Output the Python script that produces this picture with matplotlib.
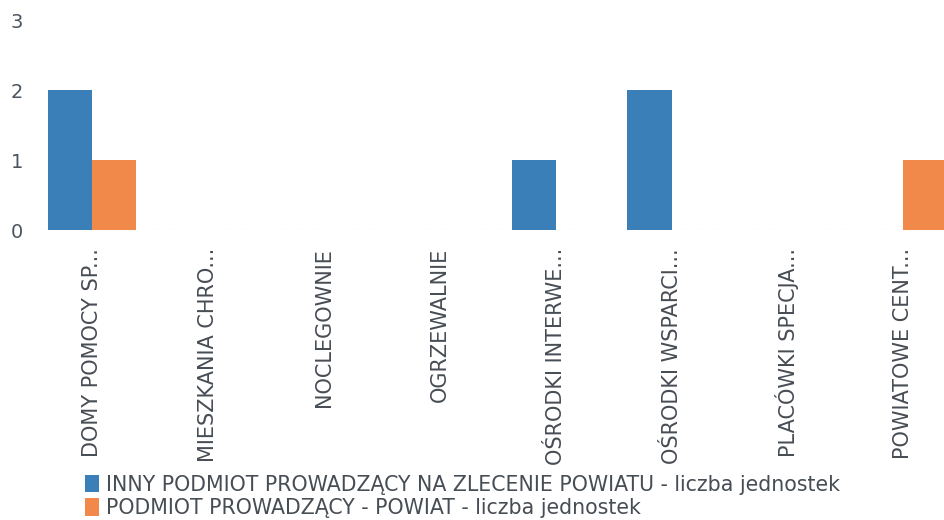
import numpy as np
import matplotlib.pyplot as plt

# Data
categories = ["DOMY POMOCY SP...", "MIESZKANIA CHRO...", "NOCLEGOWNIE", "OGRZEWALNIE",
              "OŚRODKI INTERWE...", "OŚRODKI WSPARCI...", "PLACÓWKI SPECJA...", "POWIATOWE CENT..."]
inny = [2, 0, 0, 0, 1, 2, 0, 0]
powiat = [1, 0, 0, 0, 0, 0, 0, 1]
series_names = ["INNY PODMIOT PROWADZĄCY NA ZLECENIE POWIATU - liczba jednostek",
                "PODMIOT PROWADZĄCY - POWIAT - liczba jednostek"]
colors = ["#3b7fb9", "#f1894b"]

plt.rcParams['font.family'] = ['DejaVu Sans']

fig = plt.figure(figsize=(9.45, 5.2), dpi=100)
ax = fig.add_axes([40 / 945, 290 / 520, 905 / 945, 210 / 520])

x = np.arange(len(categories))
w = 0.38
b1 = ax.bar(x - w / 2, inny, width=w, color=colors[0], label=series_names[0])
b2 = ax.bar(x + w / 2, powiat, width=w, color=colors[1], label=series_names[1])

ax.set_xlim(-0.45, 7.36)
ax.set_ylim(0, 3)
ax.set_yticks([0, 1, 2, 3])
ax.set_xticks(x)
ax.set_xticklabels(categories, rotation=90, fontsize=15, color="#474d54")
ax.tick_params(axis="y", length=0, labelsize=14, labelcolor="#4a5560", pad=12)
ax.tick_params(axis="x", length=0, pad=13)
for s in ax.spines.values():
    s.set_visible(False)
ax.axhline(0, color="#bbbbbb", lw=0.8, ls=(0, (2, 3)), zorder=0)

fig.legend(handles=[b1, b2], loc="upper left", bbox_to_anchor=(84 / 945, 1 - 474 / 520),
           frameon=False, fontsize=14.8, handlelength=0.7, handleheight=0.9,
           handletextpad=0.3, labelspacing=0.15, labelcolor="#474d54",
           borderaxespad=0, borderpad=0.05)

fig.savefig("out.png", dpi=100)
